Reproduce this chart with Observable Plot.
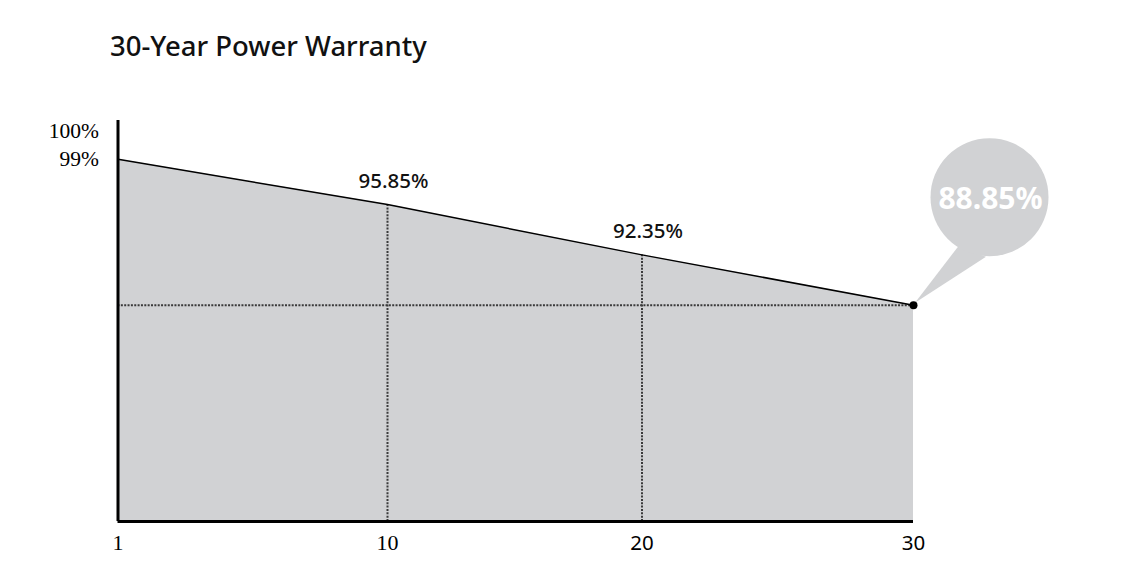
<!DOCTYPE html>
<html>
<head>
<meta charset="utf-8">
<script src="https://cdn.jsdelivr.net/npm/d3@7"></script>
<script src="https://cdn.jsdelivr.net/npm/@observablehq/plot@0.6"></script>
<style>
  html, body { margin: 0; padding: 0; background: #fff; }
  #title { height: 90px; box-sizing: border-box; padding: 30px 0 0 110px; font-family: "Noto Sans", sans-serif; font-size: 27.5px; font-weight: 500; color: #111; line-height: 32px; }
</style>
</head>
<body>
<div id="title">30-Year Power Warranty</div>
<div id="chart"></div>
<script>
const years = [1, 10, 20, 30];
const values = [99, 95.85, 92.35, 88.85];
const labelledYears = [10, 20];
const finalYear = 30;
const yTicks = [99];
const yTopTick = [100];
const xTicksSerif = [1, 10];
const xTicksSans = [20, 30];

const data = years.map((year, i) => ({year, value: values[i]}));
const labelled = data.filter(d => labelledYears.includes(d.year));
const final = data.filter(d => d.year === finalYear);
const yDomain = [73.8, 101.7];
const gray = "#d1d2d4";
const pct = d => `${d}%`;

const chart = Plot.plot({
  width: 1130,
  height: 495,
  marginLeft: 117.5,
  marginRight: 217,
  marginTop: 30,
  marginBottom: 64,
  x: {type: "linear", domain: years, range: [117.5, 387, 641.5, 913], axis: null},
  y: {type: "linear", domain: yDomain, axis: null},
  marks: [
    Plot.areaY(data, {x: "year", y: "value", fill: gray, clip: true}),
    Plot.ruleX(labelled, {x: "year", y1: yDomain[0], y2: "value", stroke: "#3a3a3a", strokeWidth: 2, strokeDasharray: "2,1.35"}),
    Plot.ruleY(final, {y: "value", x1: years[0], x2: "year", stroke: "#3a3a3a", strokeWidth: 2, strokeDasharray: "2,1.35"}),
    Plot.line(data, {x: "year", y: "value", stroke: "#000", strokeWidth: 1.5}),
    Plot.ruleX([years[0]], {stroke: "#000", strokeWidth: 3}),
    Plot.ruleY([yDomain[0]], {stroke: "#000", strokeWidth: 3}),
    Plot.text(labelled, {x: "year", y: "value", text: d => pct(d.value), dx: 6, dy: -23, fontFamily: "Noto Sans", fontSize: 20.5, fontWeight: 500, fill: "#111"}),
    Plot.dot(final, {x: "year", y: "value", r: 59, dx: 76, dy: -108, fill: gray}),
    Plot.dot(final, {x: "year", y: "value", r: 4, fill: "#000"}),
    Plot.text(final, {x: "year", y: "value", text: d => pct(d.value), dx: 77, dy: -106, fontFamily: "Noto Sans", fontWeight: "bold", fontSize: 30, fill: "#fff"}),
    Plot.text(xTicksSerif, {x: d => d, frameAnchor: "bottom", dy: 28, text: d => String(d), fontFamily: "Liberation Serif", fontSize: 22, fill: "#000"}),
    Plot.text(xTicksSans, {x: d => d, frameAnchor: "bottom", dy: 28, text: d => String(d), fontFamily: "Noto Sans", fontSize: 20.5, fill: "#000"}),
    Plot.text(yTicks, {y: d => d, frameAnchor: "left", dx: -19, textAnchor: "end", text: pct, fontFamily: "Liberation Serif", fontSize: 21.5, fill: "#000"}),
    Plot.text(yTopTick, {y: d => d, frameAnchor: "left", dx: -19, dy: -13.5, textAnchor: "end", text: pct, fontFamily: "Liberation Serif", fontSize: 21.5, fill: "#000"})
  ]
});

// speech-bubble tail, anchored on the final data point through Plot's scales
const px = chart.scale("x").apply(finalYear);
const py = chart.scale("y").apply(final[0].value);
d3.select(chart).insert("path", ":first-child")
  .attr("d", `M${px + 2},${py - 2} L${px + 45},${py - 58} L${px + 73},${py - 48} Z`)
  .attr("fill", gray);

document.getElementById("chart").appendChild(chart);
</script>
</body>
</html>
